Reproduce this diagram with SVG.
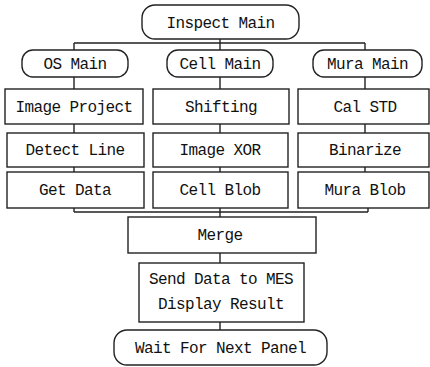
<svg xmlns="http://www.w3.org/2000/svg" width="430" height="367" viewBox="0 0 430 367">
<style>
.b{fill:#fff;stroke:#222;stroke-width:1.4}
.c{fill:none;stroke:#222;stroke-width:1.4}
text{font-family:"Liberation Mono","DejaVu Sans Mono",monospace;font-size:16px;letter-spacing:-0.6px;fill:#111;text-anchor:middle}
</style>
<rect width="430" height="367" fill="#fff"/>
<g id="connectors">
<path class="c" d="M220 39V43M74 43H365M74 43V50M220 43V50M365 43V50"/>
<path class="c" d="M74 77V89M220 77V89M365 77V89"/>
<path class="c" d="M74 124V133M220 124V133M365 124V133"/>
<path class="c" d="M74 167V172M220 167V172M365 167V172"/>
<path class="c" d="M74 208V212M368 208V212M74 212H368M220 208V217"/>
<path class="c" d="M220 253V263M220 322V330"/>
</g>
<g id="inspect-main"><rect class="b" x="142" y="5" width="157" height="34" rx="13"/><text x="220.5" y="28">Inspect Main</text></g>
<g id="os-main"><rect class="b" x="22" y="50" width="106" height="27" rx="11"/><text x="75" y="69">OS Main</text></g>
<g id="cell-main"><rect class="b" x="167" y="50" width="106" height="27" rx="11"/><text x="220" y="69">Cell Main</text></g>
<g id="mura-main"><rect class="b" x="313" y="50" width="109" height="27" rx="11"/><text x="367.5" y="69">Mura Main</text></g>
<g id="image-project"><rect class="b" x="5" y="89" width="138" height="35"/><text x="74" y="112">Image Project</text></g>
<g id="shifting"><rect class="b" x="153" y="89" width="136" height="35"/><text x="221" y="112">Shifting</text></g>
<g id="cal-std"><rect class="b" x="298" y="89" width="131" height="35"/><text x="365" y="112">Cal STD</text></g>
<g id="detect-line"><rect class="b" x="7" y="133" width="137" height="34"/><text x="75" y="155">Detect Line</text></g>
<g id="image-xor"><rect class="b" x="153" y="133" width="135" height="34"/><text x="220" y="155">Image XOR</text></g>
<g id="binarize"><rect class="b" x="298" y="133" width="131" height="34"/><text x="365" y="155">Binarize</text></g>
<g id="get-data"><rect class="b" x="7" y="172" width="137" height="36"/><text x="75" y="195">Get Data</text></g>
<g id="cell-blob"><rect class="b" x="153" y="172" width="135" height="36"/><text x="220" y="195">Cell Blob</text></g>
<g id="mura-blob"><rect class="b" x="298" y="172" width="131" height="36"/><text x="365" y="195">Mura Blob</text></g>
<g id="merge"><rect class="b" x="128" y="217" width="188" height="36"/><text x="220" y="240">Merge</text></g>
<g id="send-data"><rect class="b" x="139" y="263" width="165" height="59"/><text x="221" y="284">Send Data to MES</text><text x="221" y="309">Display Result</text></g>
<g id="wait"><rect class="b" x="114" y="330" width="213" height="35" rx="13"/><text x="220.5" y="353">Wait For Next Panel</text></g>
</svg>
